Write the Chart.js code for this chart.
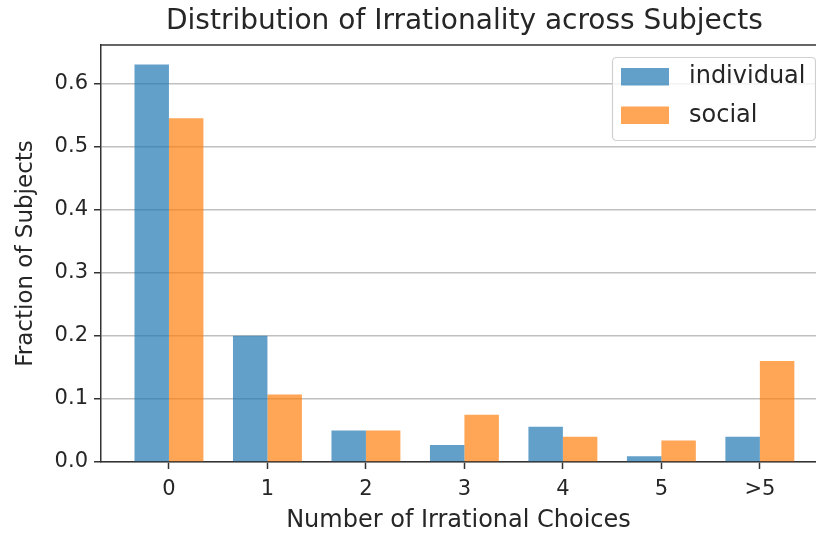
<!DOCTYPE html>
<html>
<head>
<meta charset="utf-8">
<script src="https://cdn.jsdelivr.net/npm/chart.js@4.4.1/dist/chart.umd.min.js"></script>
<style>
  html, body { margin: 0; padding: 0; background: #fff; overflow: hidden; }
  #wrap { width: 816px; height: 533px; }
</style>
</head>
<body>
<div id="wrap"><canvas id="irrChart"></canvas></div>
<script>
// data
const categories = ['0', '1', '2', '3', '4', '5', '>5'];
const individual = [0.630, 0.200, 0.050, 0.027, 0.056, 0.009, 0.040];
const social     = [0.545, 0.107, 0.050, 0.075, 0.040, 0.034, 0.160];
const yTicks     = [0.0, 0.1, 0.2, 0.3, 0.4, 0.5, 0.6];

const titleText = 'Distribution of Irrationality across Subjects';
const FONT = "'DejaVu Sans', sans-serif";
const INK = '#262626';

// title + top spine + in-axes legend, drawn matplotlib style
const mplExtras = {
  id: 'mplExtras',
  afterDraw(chart) {
    const ctx = chart.ctx;
    const area = chart.chartArea;
    const xs = chart.scales.x;

    ctx.save();
    // top spine
    ctx.strokeStyle = '#333';
    ctx.lineWidth = 1.5;
    ctx.beginPath();
    ctx.moveTo(area.left, area.top);
    ctx.lineTo(area.right, area.top);
    ctx.stroke();

    // title
    ctx.fillStyle = INK;
    ctx.font = '28px ' + FONT;
    ctx.textAlign = 'center';
    ctx.textBaseline = 'middle';
    ctx.fillText(titleText, xs.getPixelForValue(3), 22);

    // legend
    const bx = 612.5, by = 57.5, bw = 203, bh = 83;
    ctx.beginPath();
    ctx.roundRect(bx, by, bw, bh, 4);
    ctx.fillStyle = 'rgba(255,255,255,0.8)';
    ctx.fill();
    ctx.strokeStyle = '#d0d0d0';
    ctx.lineWidth = 1.2;
    ctx.stroke();

    ctx.font = '24px ' + FONT;
    ctx.textAlign = 'left';
    chart.data.datasets.forEach((ds, i) => {
      const ry = 68 + i * 38.5;
      ctx.fillStyle = ds.backgroundColor;
      ctx.fillRect(621, ry, 48, 17.5);
      ctx.fillStyle = INK;
      ctx.fillText(ds.label, 689, ry + 9);
    });
    ctx.restore();
  }
};

new Chart(document.getElementById('irrChart'), {
  type: 'bar',
  data: {
    datasets: [
      {
        label: 'individual',
        data: individual.map((v, i) => ({ x: i, y: v })),
        backgroundColor: 'rgba(31,119,180,0.7)',
        borderWidth: 0
      },
      {
        label: 'social',
        data: social.map((v, i) => ({ x: i, y: v })),
        backgroundColor: 'rgba(255,127,14,0.7)',
        borderWidth: 0
      }
    ]
  },
  plugins: [mplExtras],
  options: {
    responsive: true,
    maintainAspectRatio: false,
    animation: false,
    devicePixelRatio: 1,
    categoryPercentage: 0.7,
    barPercentage: 1.0,
    layout: { padding: { top: 45, left: 0, right: 0, bottom: 0 } },
    plugins: {
      legend: { display: false },
      title: { display: false },
      tooltip: { enabled: false }
    },
    scales: {
      x: {
        type: 'linear',
        min: -0.69,
        max: 6.57,
        offset: false,
        afterBuildTicks: s => { s.ticks = categories.map((_, i) => ({ value: i })); },
        afterFit: s => { s.height = 71; },
        ticks: {
          autoSkip: false,
          maxRotation: 0,
          padding: 8,
          color: INK,
          font: { family: FONT, size: 21 },
          callback: v => categories[v]
        },
        grid: {
          offset: false,
          drawOnChartArea: false,
          tickColor: '#333',
          tickLength: 7,
          tickWidth: 1.5
        },
        border: { color: '#333', width: 1.5 },
        title: {
          display: true,
          text: 'Number of Irrational Choices',
          color: INK,
          font: { family: FONT, size: 24, lineHeight: 1.0 },
          padding: { top: 0, bottom: 0 }
        }
      },
      y: {
        min: 0,
        max: 0.661,
        afterBuildTicks: s => { s.ticks = yTicks.map(v => ({ value: v })); },
        afterFit: s => { s.width = 101; },
        ticks: {
          padding: 6,
          color: INK,
          font: { family: FONT, size: 21 },
          callback: v => Number(v).toFixed(1)
        },
        grid: {
          color: '#c0c0c0',
          lineWidth: 1.5,
          tickColor: '#333',
          tickLength: 7,
          tickWidth: 1.5
        },
        border: { color: '#333', width: 1.5 },
        title: {
          display: true,
          text: 'Fraction of Subjects',
          color: INK,
          font: { family: FONT, size: 23 },
          padding: { top: 12, bottom: 0 }
        }
      }
    }
  }
});
</script>
</body>
</html>
